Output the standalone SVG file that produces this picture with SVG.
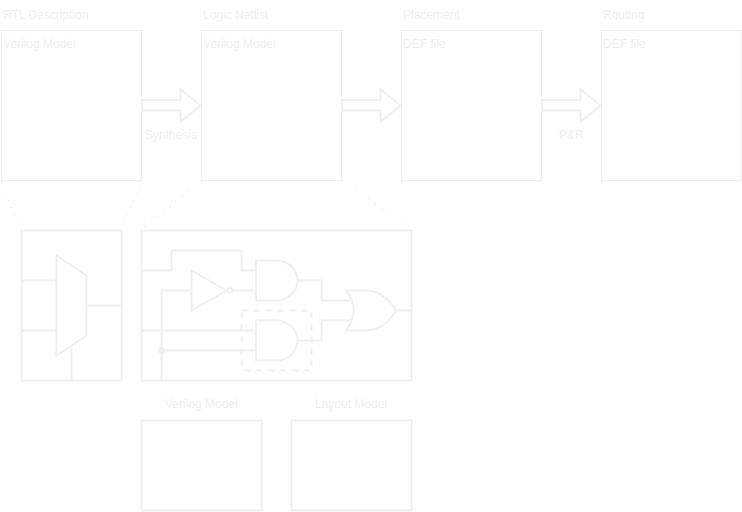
<svg xmlns="http://www.w3.org/2000/svg" width="742" height="512" viewBox="0 0 742 512">
<style>
text{font-family:"Liberation Sans",Arial,sans-serif;font-size:12px;fill:#f0f0f0}
.box{fill:#fff;stroke:#f0f0f0;stroke-width:1}
.arrow{fill:#fff;stroke:#f0f0f0;stroke-width:2}
.frame{fill:#fff;stroke:#f0f0f0;stroke-width:2}
.w{fill:none;stroke:#f0f0f0;stroke-width:2}
.g{fill:#fff;stroke:#f0f0f0;stroke-width:2}
.dot{fill:none;stroke:#ececec;stroke-width:1.500;stroke-dasharray:1 7}
</style>
<rect width="742" height="512" fill="#fff"/>
<g id="rtl"><text x="3" y="19">RTL Description</text><rect class="box" x="1.500" y="30.500" width="140" height="150"/><text x="3" y="48">Verilog Model</text></g>
<g id="netlist"><text x="203" y="19">Logic Netlist</text><rect class="box" x="201.500" y="30.500" width="140" height="150"/><text x="203" y="48">Verilog Model</text></g>
<g id="placement"><text x="403" y="19">Placement</text><rect class="box" x="401.500" y="30.500" width="140" height="150"/><text x="403" y="48">DEF file</text></g>
<g id="routing"><text x="603" y="19">Routing</text><rect class="box" x="601.500" y="30.500" width="140" height="150"/><text x="603" y="48">DEF file</text></g>
<g id="connectors">
<path id="a1" class="arrow" d="M142 100H180.500V89L200.500 105.500 180.500 122V110.500H142Z"/>
<path id="a2" class="arrow" d="M342 100H380.500V89L400.500 105.500 380.500 122V110.500H342Z"/>
<path id="a3" class="arrow" d="M542 100H580.500V89L600.500 105.500 580.500 122V110.500H542Z"/>
<path class="dot" stroke-dashoffset="4" d="M1 181L20 229"/>
<path class="dot" stroke-dashoffset="4" d="M141 181L122 229"/>
<path class="dot" d="M201 181L142 229"/>
<path class="dot" d="M342 181L411 229"/>
</g>
<text x="145" y="139">Synthesis</text>
<text x="559" y="139">P&amp;R</text>
<g id="mux-frame">
<rect class="frame" x="21.500" y="230.500" width="100" height="150"/>
<path class="w" d="M21 280.500H56M21 330.500H56M87 305.500H121M71.500 346V380"/>
<path class="g" d="M56.500 255.500L86.500 275.500V335.500L56.500 355.500Z"/>
</g>
<g id="logic-frame">
<rect class="frame" x="141.500" y="230.500" width="270" height="150"/>
<path class="w" d="M142 270.500H171.500V250.500H241.500V270.500H256M161.500 380V290.500H192M233 290.500H256M142 330.500H256M161.500 350.500H256M297 280.500H321.500V300.500H350M297 340.500H321.500V320.500H350M396 310.500H411"/>
<path class="g" d="M191.500 270.500V310.500L226.500 290.500Z"/>
<circle class="g" cx="229.800" cy="290.500" r="2.500" style="stroke-width:1.500"/>
<path class="g" d="M256 260.500H276C288 260.500 297.500 269.500 297.500 280.500S288 300.500 276 300.500H256Z"/>
<path class="g" d="M256 320.500H276C288 320.500 297.500 329.500 297.500 340.500S288 360.500 276 360.500H256Z"/>
<path class="g" d="M346 290.500H366C378 290.500 389 298 396 310.500 389 323 378 330.500 366 330.500H346C352 323 353.500 316 353.500 310.500S352 298 346 290.500Z"/>
<circle cx="161.500" cy="350.500" r="3.500" fill="#f0f0f0"/>
<rect x="241.500" y="310.500" width="70" height="60" fill="none" stroke="#f0f0f0" stroke-width="2" stroke-dasharray="6 6"/>
</g>
<g id="verilog-model"><text x="165" y="408">Verilog Model</text><rect class="frame" x="141.500" y="420.500" width="120" height="90"/></g>
<g id="layout-model"><text x="315" y="408">Layout Model</text><rect class="frame" x="291.500" y="420.500" width="120" height="90"/></g>
</svg>
